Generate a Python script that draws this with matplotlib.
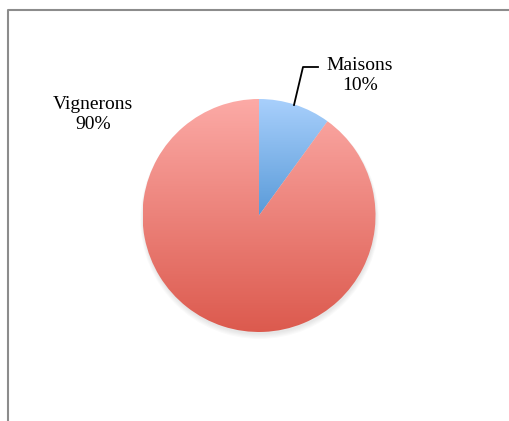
import numpy as np
import matplotlib.pyplot as plt
from matplotlib.colors import LinearSegmentedColormap

# chart data
labels = ['Maisons', 'Vignerons']
values = [10, 90]
top_colors = ['#a9d0fc', '#fcaaa6']
bottom_colors = ['#5a9bd9', '#dc5a4e']

W, H = 509, 421
fig = plt.figure(figsize=(W / 100, H / 100), dpi=100)

# pie axes: centre at (259, 215.5) px, radius 116.5 px
cx, cy, r = 259, 215.5, 116.5
pie_ax = fig.add_axes([(cx - r) / W, (H - cy - r) / H, 2 * r / W, 2 * r / H])
wedges, _ = pie_ax.pie(values, startangle=90, counterclock=False, radius=1,
                       wedgeprops=dict(linewidth=0))

# soft shadow under the pie
for k in range(5):
    sh = plt.Circle((0.005, -0.02 - 0.004 * k), 1.0 + 0.006 * k,
                    color='black', alpha=0.018, zorder=0, lw=0, clip_on=False)
    pie_ax.add_patch(sh)

# vertical gradient in each wedge
for w, c_top, c_bot in zip(wedges, top_colors, bottom_colors):
    ext = w.get_path().get_extents()
    cmap = LinearSegmentedColormap.from_list('g', [c_bot, c_top])
    grad = np.linspace(0, 1, 256).reshape(-1, 1)
    im = pie_ax.imshow(grad, cmap=cmap, origin='lower', aspect='auto',
                       extent=[ext.x0, ext.x1, ext.y0, ext.y1], zorder=2)
    im.set_clip_path(w)
    w.set_alpha(0)
pie_ax.set_xlim(-1, 1)
pie_ax.set_ylim(-1, 1)
pie_ax.axis('off')

# overlay in pixel coordinates for frame and labels
ov = fig.add_axes([0, 0, 1, 1], facecolor='none')
ov.set_xlim(0, W)
ov.set_ylim(H, 0)
ov.axis('off')

ov.plot([8, 8, W], [H, 10, 10], color='#8c8c8c', lw=1.5, solid_capstyle='butt')

font = dict(family=['Liberation Serif', 'DejaVu Serif'], fontsize=14,
            color='black', ha='center', va='center', linespacing=1.3)
ov.text(360, 75.5, f'{labels[0]}\n{values[0]}%', **font)
ov.text(93, 114.5, f'{labels[1]}\n{values[1]}%', **font)

# leader line for Maisons
ov.plot([294, 303, 318], [105, 67, 67], color='black', lw=1.3)

fig.savefig('out.png', dpi=100)
